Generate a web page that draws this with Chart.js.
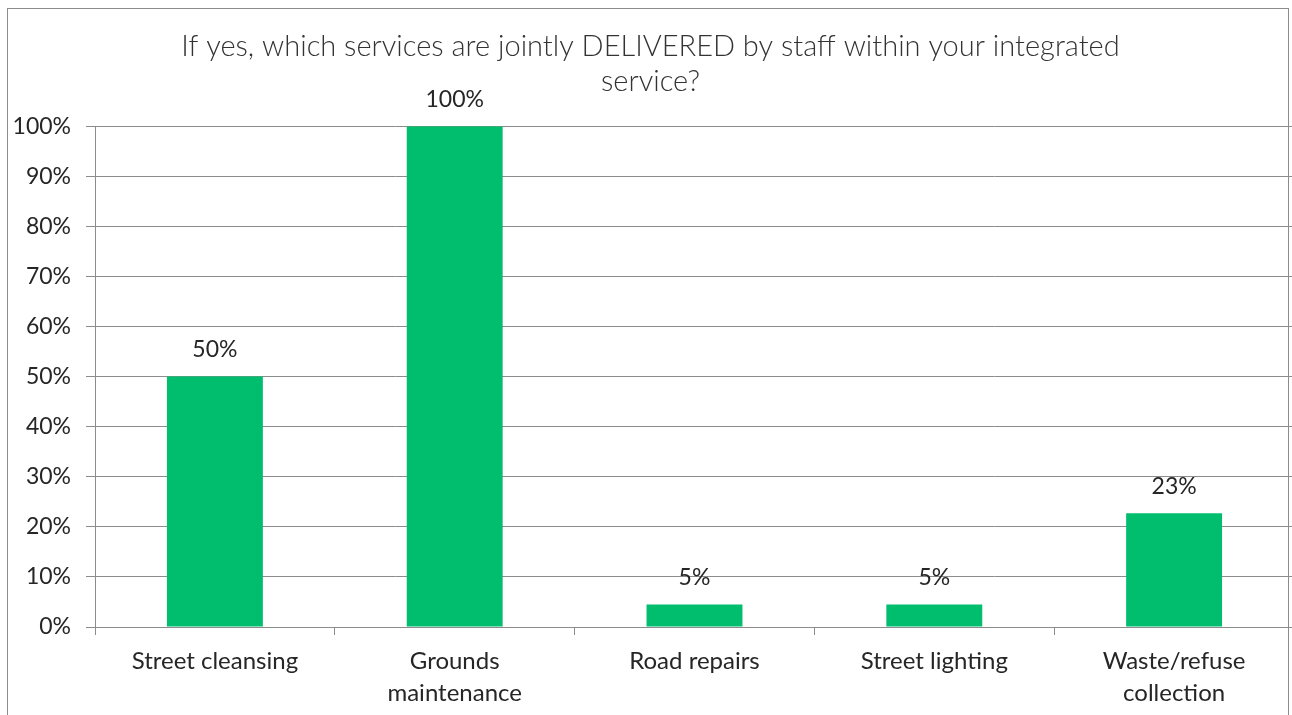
<!DOCTYPE html>
<html>
<head>
<meta charset="utf-8">
<script src="https://cdn.jsdelivr.net/npm/chart.js@4.4.1/dist/chart.umd.min.js"></script>
<style>
  html, body { margin: 0; padding: 0; background: #fff; overflow: hidden; }
  #wrap { position: relative; width: 1300px; height: 715px; }
  #frame { position: absolute; left: 7px; top: 8px; width: 1280px; height: 720px; border: 1px solid #8c8c8c; pointer-events: none; }
</style>
</head>
<body>
<div id="wrap">
  <canvas id="c" width="1300" height="715"></canvas>
  <div id="frame"></div>
</div>
<script>
const categories = [["Street cleansing"], ["Grounds", "maintenance"], ["Road repairs"], ["Street lighting"], ["Waste/refuse", "collection"]];
const values = [50, 100, 4.5, 4.5, 22.7];
const yTicks = [0, 10, 20, 30, 40, 50, 60, 70, 80, 90, 100];
const titleLines = ["If yes, which services are jointly DELIVERED by staff within your integrated", "service?"];

const FONT = "Lato, 'Open Sans', sans-serif";

const valueLabels = {
  id: 'valueLabels',
  afterDatasetsDraw(chart) {
    const ctx = chart.ctx;
    const meta = chart.getDatasetMeta(0);
    ctx.save();
    ctx.font = "23px " + FONT;
    ctx.fillStyle = "#262626";
    ctx.textAlign = "center";
    ctx.textBaseline = "middle";
    meta.data.forEach((bar, i) => {
      ctx.fillText(Math.round(values[i]) + "%", bar.x, bar.y - 27);
    });
    ctx.restore();
  }
};

new Chart(document.getElementById('c'), {
  type: 'bar',
  data: {
    labels: categories,
    datasets: [{
      data: values,
      backgroundColor: '#00BE6E',
      borderWidth: 0,
      categoryPercentage: 1.0,
      barPercentage: 0.4
    }]
  },
  options: {
    responsive: false,
    animation: false,
    layout: { padding: { left: 7, right: 6, top: 8, bottom: 0 } },
    plugins: {
      legend: { display: false },
      tooltip: { enabled: false },
      title: {
        display: true,
        text: titleLines,
        color: '#333333',
        font: { family: FONT, size: 29, weight: '300', lineHeight: 1.21 },
        padding: { top: 21, bottom: 27 }
      }
    },
    scales: {
      x: {
        grid: { display: true, drawOnChartArea: false, drawTicks: true, tickLength: 8, color: '#8c8c8c', offset: true },
        border: { display: true, color: '#8c8c8c' },
        ticks: { color: '#262626', font: { family: FONT, size: 24, lineHeight: 1.3 }, padding: 11, maxRotation: 0, autoSkip: false },
        afterFit(scale) { scale.height = 88; }
      },
      y: {
        min: 0, max: 100,
        afterBuildTicks(scale) { scale.ticks = yTicks.map(v => ({ value: v })); },
        grid: { color: '#8c8c8c', tickLength: 9, drawTicks: true },
        border: { display: true, color: '#8c8c8c' },
        ticks: { color: '#262626', font: { family: FONT, size: 23 }, padding: 15, callback: v => v + '%' },
        afterFit(scale) { scale.width = 88; }
      }
    }
  },
  plugins: [valueLabels]
});
</script>
</body>
</html>
